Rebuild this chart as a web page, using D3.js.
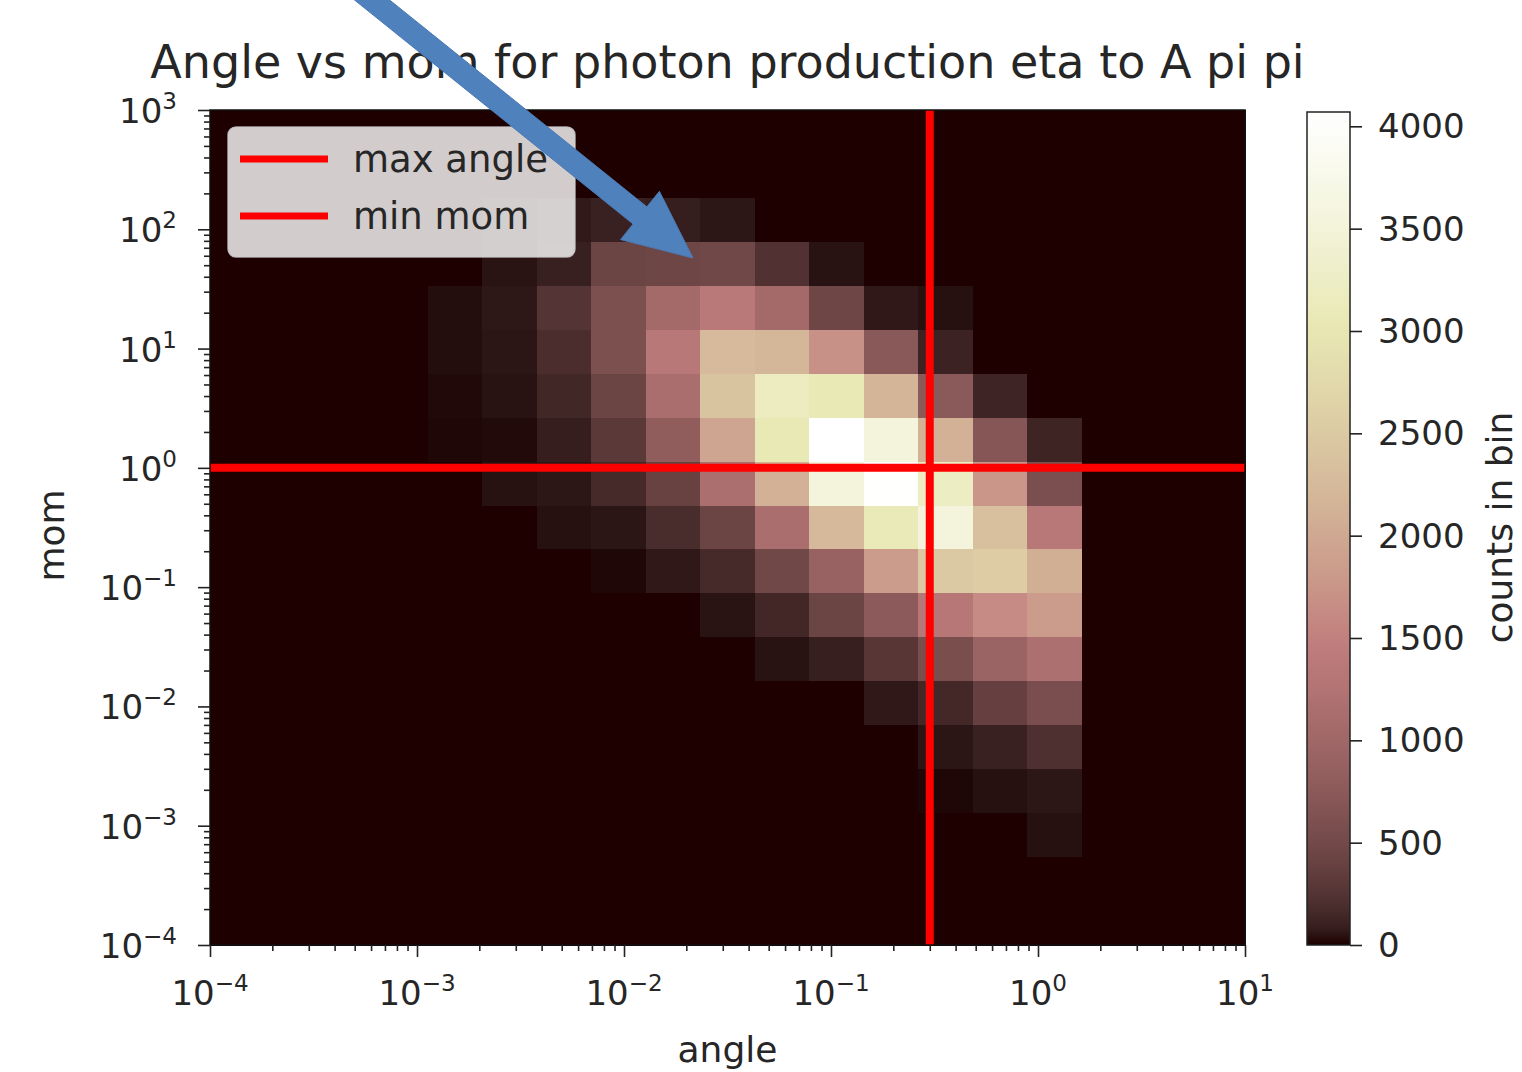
<!DOCTYPE html>
<html><head><meta charset="utf-8">
<script src="https://cdn.jsdelivr.net/npm/d3@7"></script>
<style>
body{margin:0;background:#fff;}
svg{display:block;}
text{font-family:"DejaVu Sans",sans-serif;fill:#262626;}
</style>
</head><body>
<svg id="chart" width="1522" height="1072"></svg>
<script>
// ---------------- data ----------------
const titleText = "Angle vs mom for photon production eta to A pi pi";
const xLabel = "angle";
const yLabel = "mom";
const cbLabel = "counts in bin";
const legendLabels = ["max angle", "min mom"];

// histogram bin edges (log10 of angle / mom)
const angleEdgeExp = [-4, -3.7368, -3.4737, -3.2105, -2.9474, -2.6842, -2.4211, -2.1579, -1.8947, -1.6316,
  -1.3684, -1.1053, -0.8421, -0.5789, -0.3158, -0.0526, 0.2105, 0.4737, 0.7368, 1];
const momEdgeExp = [-4, -3.6316, -3.2632, -2.8947, -2.5263, -2.1579, -1.7895, -1.4211, -1.0526, -0.6842,
  -0.3158, 0.0526, 0.4211, 0.7895, 1.1579, 1.5263, 1.8947, 2.2632, 2.6316, 3];

// counts per bin, rows listed from the highest mom bin (top) to the lowest (bottom)
const countsTopDown = [
  [0,0,0,0,0,0,0,0,0,0,0,0,0,0,0,0,0,0,0],
  [0,0,0,0,0,0,0,0,0,0,0,0,0,0,0,0,0,0,0],
  [0,0,0,0,0,20,60,100,85,45,0,0,0,0,0,0,0,0,0],
  [0,0,0,0,0,35,95,430,460,480,230,30,0,0,0,0,0,0,0],
  [0,0,0,0,15,50,250,600,1050,1370,1050,460,55,25,0,0,0,0,0],
  [0,0,0,0,15,40,190,600,1360,2250,2200,1700,730,110,0,0,0,0,0],
  [0,0,0,0,8,30,140,430,1140,2400,3180,3050,2180,740,120,0,0,0,0],
  [0,0,0,0,4,10,85,310,800,1950,3050,4070,3550,2120,690,125,0,0,0],
  [0,0,0,0,0,28,45,160,400,1150,2120,3550,4050,3230,1760,580,0,0,0],
  [0,0,0,0,0,0,25,40,180,430,1130,2230,3100,3550,2340,1360,0,0,0],
  [0,0,0,0,0,0,0,5,55,160,480,900,1820,2480,2530,2080,0,0,0],
  [0,0,0,0,0,0,0,0,0,35,145,430,760,1320,1630,1830,0,0,0],
  [0,0,0,0,0,0,0,0,0,0,30,90,275,575,940,1170,0,0,0],
  [0,0,0,0,0,0,0,0,0,0,0,0,55,150,385,570,0,0,0],
  [0,0,0,0,0,0,0,0,0,0,0,0,0,40,100,215,0,0,0],
  [0,0,0,0,0,0,0,0,0,0,0,0,0,5,25,45,0,0,0],
  [0,0,0,0,0,0,0,0,0,0,0,0,0,0,0,25,0,0,0],
  [0,0,0,0,0,0,0,0,0,0,0,0,0,0,0,0,0,0,0],
  [0,0,0,0,0,0,0,0,0,0,0,0,0,0,0,0,0,0,0]
];

const xMajorTicks = [1e-4, 1e-3, 1e-2, 1e-1, 1e0, 1e1];
const yMajorTicks = [1e-4, 1e-3, 1e-2, 1e-1, 1e0, 1e1, 1e2, 1e3];
const colorbarTicks = [0, 500, 1000, 1500, 2000, 2500, 3000, 3500, 4000];
const maxAngle = 0.3;
const minMom = 1;

// annotation arrow (data coordinates: angle, mom)
const arrowTail = [4.6e-4, 12300];
const arrowTip = [0.02154, 57.4];

// ---------------- layout ----------------
const svg = d3.select("#chart");
const P = {left: 210, right: 1245, top: 110, bottom: 945};
const CB = {x: 1307, w: 43, top: 112, bottom: 945};

const x = d3.scaleLog().domain([1e-4, 1e1]).range([P.left, P.right]);
const y = d3.scaleLog().domain([1e-4, 1e3]).range([P.bottom, P.top]);

const vmax = d3.max(countsTopDown.flat());

// matplotlib "pink" colormap: sqrt((2*gray + hot)/3)
function pinkColor(t) {
  t = Math.max(0, Math.min(1, t));
  const hr = Math.min(1, 0.0416 + t * (1 - 0.0416) / 0.365079);
  const hg = t < 0.365079 ? 0 : Math.min(1, (t - 0.365079) / (0.746032 - 0.365079));
  const hb = t < 0.746032 ? 0 : (t - 0.746032) / (1 - 0.746032);
  const r = Math.sqrt((2 * t + hr) / 3), g = Math.sqrt((2 * t + hg) / 3), b = Math.sqrt((2 * t + hb) / 3);
  return d3.rgb(r * 255, g * 255, b * 255).formatHex();
}
const color = d3.scaleSequential(pinkColor).domain([0, vmax]);

// ---------------- heatmap ----------------
const nRows = momEdgeExp.length - 1;
const cells = [];
countsTopDown.forEach((row, r) => {
  const mi = nRows - 1 - r;
  row.forEach((v, i) => {
    cells.push({
      x0: Math.pow(10, angleEdgeExp[i]), x1: Math.pow(10, angleEdgeExp[i + 1]),
      y0: Math.pow(10, momEdgeExp[mi]), y1: Math.pow(10, momEdgeExp[mi + 1]), v
    });
  });
});

svg.append("g").selectAll("rect").data(cells).join("rect")
  .attr("x", d => x(d.x0))
  .attr("y", d => y(d.y1))
  .attr("width", d => x(d.x1) - x(d.x0) + 0.5)
  .attr("height", d => y(d.y0) - y(d.y1) + 0.5)
  .attr("fill", d => color(d.v))
  .attr("shape-rendering", "crispEdges");

// red reference lines
svg.append("line")
  .attr("x1", x(maxAngle)).attr("x2", x(maxAngle))
  .attr("y1", P.top).attr("y2", P.bottom)
  .attr("stroke", "#ff0000").attr("stroke-width", 8);
svg.append("line")
  .attr("x1", P.left).attr("x2", P.right)
  .attr("y1", y(minMom)).attr("y2", y(minMom))
  .attr("stroke", "#ff0000").attr("stroke-width", 8);

// spines
svg.append("rect")
  .attr("x", P.left).attr("y", P.top)
  .attr("width", P.right - P.left).attr("height", P.bottom - P.top)
  .attr("fill", "none").attr("stroke", "#111").attr("stroke-width", 1.5);

// ---------------- axes ----------------
const sup = (v) => {
  const e = Math.round(Math.log10(v));
  return e < 0 ? "\u2212" + Math.abs(e) : String(e);
};
const isMajor = (v) => Math.abs(Math.log10(v) - Math.round(Math.log10(v))) < 1e-9;

const xMinor = x.ticks().filter(v => !isMajor(v));
const yMinor = y.ticks().filter(v => !isMajor(v));

const gx = svg.append("g").attr("transform", `translate(0,${P.bottom})`);
gx.call(d3.axisBottom(x).tickValues(xMajorTicks).tickSize(12).tickFormat(""));
gx.append("g").call(d3.axisBottom(x).tickValues(xMinor).tickSize(6).tickFormat(""));
gx.selectAll("path.domain").remove();
gx.selectAll("line").attr("stroke", "#222").attr("stroke-width", 1.6);

const gy = svg.append("g").attr("transform", `translate(${P.left},0)`);
gy.call(d3.axisLeft(y).tickValues(yMajorTicks).tickSize(12).tickFormat(""));
gy.append("g").call(d3.axisLeft(y).tickValues(yMinor).tickSize(6).tickFormat(""));
gy.selectAll("path.domain").remove();
gy.selectAll("line").attr("stroke", "#222").attr("stroke-width", 1.6);

function powLabel(sel) {
  sel.append("tspan").text("10").attr("font-size", 34);
  sel.append("tspan").text(d => sup(d)).attr("font-size", 23).attr("dy", -14);
}

svg.append("g").selectAll("text").data(xMajorTicks).join("text")
  .attr("x", d => x(d)).attr("y", 1005)
  .attr("text-anchor", "middle")
  .call(powLabel);

svg.append("g").selectAll("text").data(yMajorTicks).join("text")
  .attr("x", 177).attr("y", d => y(d) + 13)
  .attr("text-anchor", "end")
  .call(powLabel);

// axis labels
svg.append("text").attr("x", (P.left + P.right) / 2).attr("y", 1062)
  .attr("text-anchor", "middle").attr("font-size", 36).text(xLabel);
svg.append("text").attr("transform", `translate(64,${(P.top + P.bottom) / 2 + 8}) rotate(-90)`)
  .attr("text-anchor", "middle").attr("font-size", 36).text(yLabel);

// title
svg.append("text").attr("x", (P.left + P.right) / 2).attr("y", 78)
  .attr("text-anchor", "middle").attr("font-size", 46).text(titleText);

// ---------------- legend ----------------
const lg = svg.append("g");
lg.append("rect").attr("x", 228).attr("y", 127).attr("width", 347).attr("height", 130)
  .attr("rx", 8).attr("fill", "#ffffff").attr("fill-opacity", 0.8)
  .attr("stroke", "#cccccc").attr("stroke-opacity", 0.8).attr("stroke-width", 1.5);
legendLabels.forEach((lab, k) => {
  const cy = 159 + k * 57;
  lg.append("line").attr("x1", 240).attr("x2", 328).attr("y1", cy).attr("y2", cy)
    .attr("stroke", "#ff0000").attr("stroke-width", 7);
  lg.append("text").attr("x", 353).attr("y", cy + 13).attr("font-size", 37).text(lab);
});

// ---------------- colorbar ----------------
const c = d3.scaleLinear().domain([0, vmax]).range([CB.bottom, CB.top]);
const defs = svg.append("defs");
const grad = defs.append("linearGradient").attr("id", "cbgrad")
  .attr("x1", 0).attr("y1", 1).attr("x2", 0).attr("y2", 0);
d3.range(0, 1.0001, 0.02).forEach(t => {
  grad.append("stop").attr("offset", t).attr("stop-color", pinkColor(t));
});
svg.append("rect").attr("x", CB.x).attr("y", CB.top)
  .attr("width", CB.w).attr("height", CB.bottom - CB.top)
  .attr("fill", "url(#cbgrad)").attr("stroke", "#222").attr("stroke-width", 1.5);

const gc = svg.append("g").attr("transform", `translate(${CB.x + CB.w},0)`);
gc.call(d3.axisRight(c).tickValues(colorbarTicks).tickSize(12).tickFormat(""));
gc.selectAll("path.domain").remove();
gc.selectAll("line").attr("stroke", "#222").attr("stroke-width", 1.6);
svg.append("g").selectAll("text").data(colorbarTicks).join("text")
  .attr("x", 1378).attr("y", d => c(d) + 12)
  .attr("font-size", 34).text(d => d);
svg.append("text").attr("transform", `translate(1512,${(CB.top + CB.bottom) / 2 - 1}) rotate(-90)`)
  .attr("text-anchor", "middle").attr("font-size", 36).text(cbLabel);

// ---------------- annotation arrow ----------------
(function () {
  const sx = x(arrowTail[0]), sy = y(arrowTail[1]);
  const tx = x(arrowTip[0]), ty = y(arrowTip[1]);
  const L = Math.hypot(tx - sx, ty - sy);
  const ux = (tx - sx) / L, uy = (ty - sy) / L;
  const nx = -uy, ny = ux;
  const headLen = 68, headHalf = 31, shaftHalf = 11;
  const bx = tx - headLen * ux, by = ty - headLen * uy;
  const pts = [
    [sx + shaftHalf * nx, sy + shaftHalf * ny],
    [bx + shaftHalf * nx, by + shaftHalf * ny],
    [bx + headHalf * nx, by + headHalf * ny],
    [tx, ty],
    [bx - headHalf * nx, by - headHalf * ny],
    [bx - shaftHalf * nx, by - shaftHalf * ny],
    [sx - shaftHalf * nx, sy - shaftHalf * ny]
  ];
  svg.append("path").attr("d", d3.line()(pts) + "Z")
    .attr("fill", "#4f81bd").attr("stroke", "#4a7ab5").attr("stroke-width", 1)
    .attr("stroke-linejoin", "round");
})();
</script>
</body></html>
